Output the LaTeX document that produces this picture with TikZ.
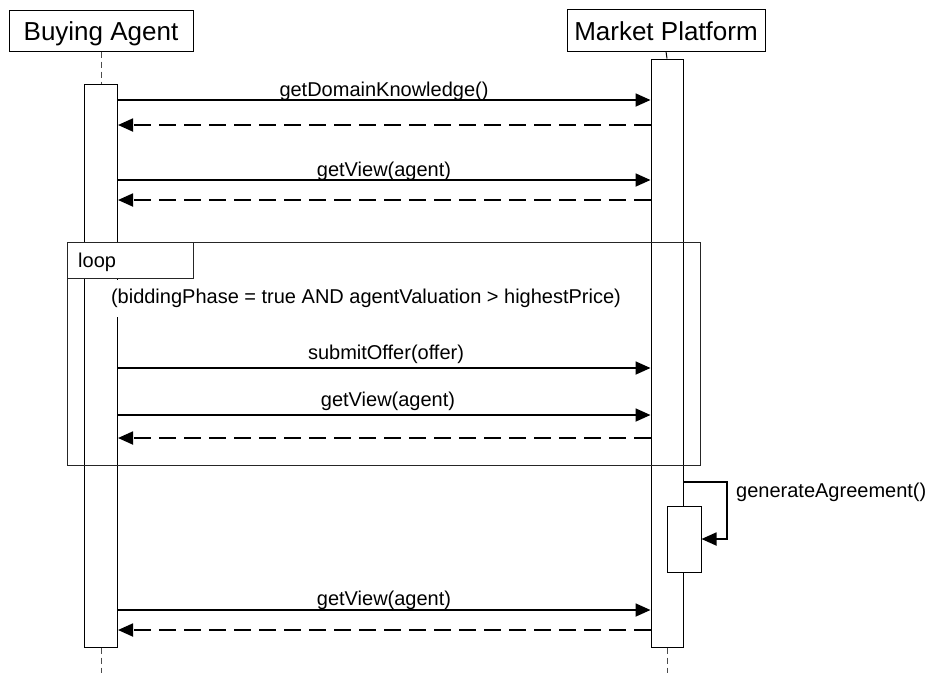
\documentclass[tikz,border=0pt]{standalone}
\usepackage{fontspec}
\setmainfont{Liberation Sans}
\usetikzlibrary{arrows.meta}
\begin{document}
\begin{tikzpicture}[x=1pt,y=-1pt,
  head/.style={draw, line width=1pt, fill=white, inner sep=0pt},
  headtxt/.style={font=\fontsize{26}{28}\selectfont, inner sep=0pt, anchor=base},
  act/.style={draw, line width=1pt, fill=white, inner sep=0pt},
  msg/.style={line width=1.8pt, -{Triangle[length=15pt,width=13pt]}},
  ret/.style={msg, dash pattern=on 17pt off 8pt},
  lbl/.style={font=\fontsize{20}{22}\selectfont, inner sep=0pt, anchor=base},
  life/.style={line width=1pt, black!70, dash pattern=on 6pt off 4pt},
  framebox/.style={draw, line width=1pt, black!85, inner sep=0pt, anchor=north west}
]
\useasboundingbox (0,0) rectangle (931,673);

% participants
\node[head, minimum width=184pt, minimum height=41pt] (ba) at (101,30.5) {};
\node[headtxt] (baTxt) at (101,40) {Buying Agent};
\node[head, minimum width=198pt, minimum height=42pt] (mp) at (666,30) {};
\node[headtxt] (mpTxt) at (666,40) {Market Platform};

% activation boxes
\node[act, minimum width=33pt, minimum height=563pt] (baAct) at (101,365.5) {};
\node[act, minimum width=32pt, minimum height=588pt] (mpAct) at (667,353) {};

% lifelines
\coordinate (baEnd) at (101,673);
\coordinate (mpEnd) at (667,673);
\draw[life] (ba.south) -- (baAct.north);
\draw[line width=1pt] (mp.south) -- (mpAct.north);
\draw[life] (baAct.south) -- (baEnd);
\draw[life] (mpAct.south) -- (mpEnd);

% nested activation
\node[act, minimum width=34pt, minimum height=66pt] (mpSub) at (684,539) {};

% loop frame
\node[framebox, minimum width=633pt, minimum height=223pt] (frame) at (67,242) {};
\node[fill=white, inner xsep=2pt, inner ysep=0pt, minimum height=37pt, font=\fontsize{20}{22}\selectfont] (guard) at (366,298.5)
  {(biddingPhase = true AND agentValuation > highestPrice)};
\node[framebox, fill=white, minimum width=126pt, minimum height=36pt] (loopbox) at (67,242) {};
\node[lbl, anchor=base west] (looptxt) at (78,267) {loop};

% message rows
\coordinate (y1) at (0,100);
\coordinate (y2) at (0,125);
\coordinate (y3) at (0,180);
\coordinate (y4) at (0,200);
\coordinate (y5) at (0,368);
\coordinate (y6) at (0,415);
\coordinate (y7) at (0,438);
\coordinate (y8) at (0,482);
\coordinate (y9) at (0,610);
\coordinate (y10) at (0,630);
\coordinate (selfR) at (727,482);

\draw[msg] (baAct.east |- y1) -- (mpAct.west |- y1);
\draw[ret] (mpAct.west |- y2) -- (baAct.east |- y2);
\draw[msg] (baAct.east |- y3) -- (mpAct.west |- y3);
\draw[ret] (mpAct.west |- y4) -- (baAct.east |- y4);
\draw[msg] (baAct.east |- y5) -- (mpAct.west |- y5);
\draw[msg] (baAct.east |- y6) -- (mpAct.west |- y6);
\draw[ret] (mpAct.west |- y7) -- (baAct.east |- y7);
\draw[msg] (mpAct.east |- y8) -- (selfR) |- (mpSub.east);
\draw[msg] (baAct.east |- y9) -- (mpAct.west |- y9);
\draw[ret] (mpAct.west |- y10) -- (baAct.east |- y10);

% labels
\node[lbl] (l1) at (384,96) {getDomainKnowledge()};
\node[lbl] (l2) at (384,176) {getView(agent)};
\node[lbl] (l3) at (386,359) {submitOffer(offer)};
\node[lbl] (l4) at (388,406) {getView(agent)};
\node[lbl, anchor=base west] (l5) at (736,497) {generateAgreement()};
\node[lbl] (l6) at (384,605) {getView(agent)};
\end{tikzpicture}
\end{document}
